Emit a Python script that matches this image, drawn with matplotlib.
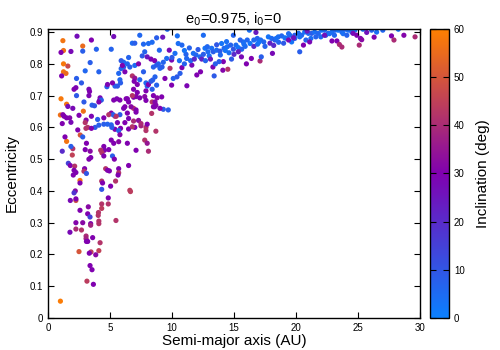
import numpy as np
import matplotlib
matplotlib.use("Agg")
import matplotlib.pyplot as plt
from matplotlib.colors import LinearSegmentedColormap

plt.rcParams["font.family"] = ["Liberation Sans", "DejaVu Sans"]

# (semi-major axis AU, eccentricity, inclination deg)
high_inc = [
    (1.2, 0.873, 57), (1.25, 0.842, 56), (1.25, 0.80, 58), (1.6, 0.793, 47),
    (1.25, 0.775, 57), (1.45, 0.77, 55), (2.8, 0.856, 55), (1.05, 0.69, 58),
    (1.5, 0.673, 57), (2.85, 0.651, 56), (1.0, 0.639, 56), (2.6, 0.576, 50),
    (1.5, 0.556, 57), (2.58, 0.433, 58), (2.5, 0.209, 50), (1.0, 0.053, 59),
    (2.25, 0.37, 48), (1.96, 0.513, 45), (2.0, 0.533, 42),
]

inner_upper = [
    (1.05, 0.836, 30), (1.85, 0.839, 28), (2.34, 0.887, 27), (3.5, 0.875, 30),
    (5.3, 0.886, 27), (2.8, 0.84, 8), (3.9, 0.846, 7), (5.1, 0.846, 7),
    (3.4, 0.804, 8), (3.0, 0.778, 6), (4.1, 0.775, 7), (1.1, 0.762, 30),
    (2.3, 0.754, 8), (2.7, 0.74, 9), (2.25, 0.725, 29), (3.3, 0.72, 28),
    (3.35, 0.713, 30), (3.3, 0.70, 29), (4.75, 0.728, 8), (4.2, 0.693, 28),
    (4.15, 0.684, 27), (3.55, 0.67, 8), (3.75, 0.668, 10), (2.9, 0.68, 9),
    (2.3, 0.70, 9), (1.6, 0.666, 27), (2.0, 0.66, 28), (2.5, 0.638, 30),
    (1.2, 0.64, 31), (1.5, 0.63, 30), (3.07, 0.623, 31), (3.5, 0.635, 29),
    (3.2, 0.60, 42), (4.1, 0.607, 8), (3.8, 0.60, 9),
    (5.1, 0.645, 30), (5.4, 0.635, 42), (5.1, 0.608, 7), (5.4, 0.594, 30),
    (5.6, 0.615, 28), (5.85, 0.597, 30), (6.5, 0.628, 29), (6.5, 0.595, 30),
    (6.9, 0.62, 40), (7.3, 0.622, 33), (7.0, 0.60, 30), (7.5, 0.605, 38),
    (7.9, 0.60, 42), (6.9, 0.66, 42), (7.1, 0.655, 30), (6.1, 0.66, 29),
    (5.8, 0.64, 9), (6.4, 0.69, 30), (6.9, 0.695, 30), (7.1, 0.697, 31),
    (7.4, 0.693, 30), (7.8, 0.697, 32), (7.9, 0.715, 30), (8.4, 0.72, 8),
    (7.9, 0.685, 30), (8.4, 0.68, 42), (8.6, 0.665, 30), (8.8, 0.693, 32),
    (9.3, 0.657, 9), (8.7, 0.588, 42), (7.9, 0.59, 42), (8.0, 0.61, 30),
    (5.7, 0.77, 6), (5.9, 0.785, 7), (6.1, 0.79, 8), (6.2, 0.775, 29),
    (5.8, 0.75, 6), (5.85, 0.74, 8), (5.4, 0.73, 7), (5.6, 0.73, 9),
    (5.2, 0.74, 30), (4.8, 0.735, 29), (6.8, 0.762, 42), (7.0, 0.755, 35),
    (6.95, 0.745, 30), (7.4, 0.75, 7), (7.7, 0.775, 8), (7.2, 0.735, 30),
    (7.9, 0.74, 6), (8.0, 0.73, 8), (8.1, 0.735, 30), (8.3, 0.745, 10),
    (6.9, 0.72, 30), (7.2, 0.71, 30), (2.1, 0.72, 30), (4.3, 0.686, 8),
    (4.1, 0.68, 30), (5.3, 0.686, 30), (5.55, 0.69, 29), (5.8, 0.686, 30),
    (6.3, 0.69, 30), (6.5, 0.68, 30), (6.8, 0.70, 42), (8.5, 0.70, 30),
    (8.7, 0.67, 31), (5.25, 0.64, 8), (4.9, 0.64, 42), (5.5, 0.635, 42),
    (6.4, 0.645, 30), (7.1, 0.648, 30), (6.7, 0.665, 32), (6.2, 0.665, 30),
    (1.3, 0.635, 30), (1.75, 0.63, 31), (3.0, 0.615, 42), (4.0, 0.625, 8),
    (4.5, 0.63, 30), (7.4, 0.89, 6), (6.8, 0.865, 5),
    (7.0, 0.865, 8), (7.7, 0.862, 6), (8.4, 0.868, 5), (7.8, 0.838, 7),
    (7.6, 0.825, 9), (8.0, 0.822, 25), (8.3, 0.815, 30), (8.6, 0.81, 30),
    (6.5, 0.82, 7), (6.1, 0.805, 6), (5.9, 0.81, 9), (6.0, 0.795, 30),
    (6.4, 0.80, 6), (6.6, 0.79, 8), (7.0, 0.795, 5), (7.3, 0.80, 31),
    (8.1, 0.864, 5), (8.9, 0.80, 6), (9.3, 0.805, 7),
]

inner_lower = [
    (1.15, 0.612, 30), (1.85, 0.616, 28), (2.4, 0.592, 30), (2.8, 0.57, 8),
    (3.06, 0.597, 42), (3.5, 0.597, 30), (4.5, 0.61, 8), (4.8, 0.61, 7),
    (5.15, 0.60, 8), (5.7, 0.59, 7), (5.8, 0.577, 31), (6.2, 0.615, 30),
    (6.8, 0.602, 42), (7.5, 0.612, 40), (1.37, 0.57, 30), (1.85, 0.54, 8),
    (1.15, 0.525, 20), (3.1, 0.55, 30), (3.0, 0.53, 30), (3.4, 0.525, 32),
    (3.45, 0.505, 30), (3.3, 0.50, 30), (4.5, 0.54, 30), (4.55, 0.528, 30),
    (4.25, 0.528, 42), (4.35, 0.52, 42), (4.9, 0.53, 30), (5.1, 0.56, 30),
    (5.3, 0.55, 30), (5.7, 0.555, 32), (6.4, 0.55, 30), (7.1, 0.528, 30),
    (7.8, 0.56, 42), (8.0, 0.55, 35), (8.1, 0.525, 40), (5.2, 0.51, 8),
    (5.35, 0.50, 30), (4.5, 0.51, 30), (6.5, 0.48, 30), (5.7, 0.47, 30),
    (4.65, 0.47, 42), (4.8, 0.465, 30), (4.95, 0.463, 30), (5.7, 0.457, 42),
    (5.65, 0.45, 30), (1.64, 0.487, 15), (1.8, 0.48, 30), (2.15, 0.478, 42),
    (2.1, 0.465, 30), (2.25, 0.458, 30), (2.95, 0.47, 30), (2.9, 0.462, 42),
    (3.1, 0.455, 10), (2.04, 0.45, 30), (2.58, 0.425, 30), (4.33, 0.431, 42),
    (4.4, 0.425, 30), (5.45, 0.431, 42), (5.05, 0.415, 30), (4.33, 0.405, 10),
    (2.2, 0.40, 32), (2.1, 0.394, 18), (6.6, 0.402, 44), (6.65, 0.398, 44),
    (1.8, 0.37, 28), (2.25, 0.375, 30), (4.86, 0.378, 30), (4.86, 0.359, 42),
    (4.33, 0.359, 42), (4.33, 0.345, 44), (4.07, 0.332, 42), (4.05, 0.323, 42),
    (2.58, 0.339, 30), (3.25, 0.35, 32), (3.2, 0.328, 30), (3.39, 0.318, 15),
    (4.1, 0.305, 42), (4.1, 0.297, 42), (5.48, 0.307, 42), (3.44, 0.297, 30),
    (3.44, 0.292, 38), (2.25, 0.30, 31), (2.8, 0.30, 32), (2.25, 0.28, 40),
    (2.7, 0.277, 42), (1.77, 0.27, 28), (3.07, 0.258, 40), (3.07, 0.25, 38),
    (3.6, 0.253, 30), (3.1, 0.241, 30), (3.2, 0.241, 30), (4.2, 0.237, 42),
    (3.47, 0.208, 44), (3.33, 0.204, 30), (4.1, 0.212, 45), (3.85, 0.199, 32),
    (3.39, 0.165, 30), (3.55, 0.152, 30), (3.14, 0.116, 44), (3.66, 0.106, 30),
]

band_mid = [
    (9.62, 0.909, 6), (10.43, 0.888, 4), (8.76, 0.882, 8), (9.25, 0.884, 25),
    (12.53, 0.89, 5), (14.95, 0.89, 7), (16.24, 0.906, 4), (16.77, 0.899, 24),
    (10.5, 0.864, 4), (10.8, 0.859, 6), (8.98, 0.843, 6), (9.78, 0.843, 28),
    (9.57, 0.817, 5), (10.24, 0.833, 4), (11.13, 0.83, 7), (11.18, 0.817, 6),
    (11.72, 0.833, 4), (11.94, 0.828, 6), (12.26, 0.822, 5), (12.53, 0.83, 8),
    (12.66, 0.849, 3), (12.85, 0.854, 6), (13.2, 0.849, 4), (13.33, 0.838, 8),
    (13.6, 0.843, 5), (13.87, 0.84, 9), (14.0, 0.864, 3), (14.2, 0.849, 6),
    (14.46, 0.854, 4), (14.73, 0.859, 7), (14.95, 0.846, 10), (15.16, 0.859, 5),
    (15.35, 0.851, 3), (15.62, 0.846, 7), (15.75, 0.869, 4), (16.07, 0.875, 6),
    (16.3, 0.864, 3), (16.6, 0.875, 5), (16.88, 0.88, 7), (17.15, 0.875, 4),
    (17.4, 0.869, 6), (17.77, 0.885, 3), (18.04, 0.88, 5), (18.3, 0.875, 8),
    (18.57, 0.885, 4), (18.84, 0.888, 6), (19.1, 0.882, 3), (14.14, 0.807, 30),
    (14.1, 0.78, 31), (14.5, 0.783, 42), (13.8, 0.807, 8), (13.3, 0.79, 29),
    (13.4, 0.762, 9), (12.3, 0.775, 30), (12.0, 0.765, 30), (11.6, 0.796, 28),
    (11.2, 0.731, 29), (10.8, 0.788, 30), (9.84, 0.786, 42), (9.97, 0.812, 28),
    (9.43, 0.754, 30), (9.97, 0.733, 30), (9.17, 0.696, 30), (8.63, 0.68, 31),
    (9.7, 0.655, 8), (9.03, 0.66, 30), (8.5, 0.665, 30), (8.36, 0.644, 42),
    (15.35, 0.838, 24), (15.6, 0.822, 28), (16.0, 0.80, 30), (16.4, 0.817, 30),
    (17.1, 0.809, 40), (17.2, 0.822, 8), (18.1, 0.833, 28), (8.5, 0.79, 7),
    (8.76, 0.796, 8), (9.03, 0.786, 6), (9.2, 0.79, 8), (8.63, 0.759, 7),
    (8.44, 0.749, 8), (8.76, 0.733, 7), (10.4, 0.759, 9), (10.65, 0.77, 8),
    (10.1, 0.754, 7), (12.4, 0.815, 22), (12.7, 0.81, 7), (11.5, 0.81, 6),
    (11.0, 0.80, 7), (13.0, 0.825, 4), (13.9, 0.828, 6), (14.6, 0.835, 4),
    (15.0, 0.83, 20), (15.9, 0.855, 5), (16.6, 0.855, 20), (17.5, 0.855, 7),
    (17.9, 0.865, 22), (18.6, 0.868, 6), (12.1, 0.845, 9), (11.4, 0.85, 7),
    (13.6, 0.86, 10), (14.4, 0.87, 4), (15.5, 0.875, 7), (16.9, 0.862, 4),
    (10.0, 0.82, 9), (10.6, 0.81, 4), (11.8, 0.815, 20), (13.1, 0.815, 24),
    (13.5, 0.80, 8), (14.8, 0.815, 9), (18.2, 0.858, 20), (19.0, 0.865, 9),
    (11.0, 0.842, 3), (12.9, 0.838, 5), (14.3, 0.842, 3), (15.8, 0.862, 4),
    (17.0, 0.868, 3), (18.4, 0.88, 4),
]

band_outer = [
    (19.25, 0.88, 4), (19.5, 0.89, 6), (19.65, 0.869, 3), (19.9, 0.88, 7),
    (20.2, 0.896, 4), (20.45, 0.89, 6), (20.7, 0.90, 3), (21.0, 0.896, 5),
    (21.26, 0.896, 8), (21.5, 0.90, 4), (21.8, 0.896, 6), (22.07, 0.906, 3),
    (22.3, 0.906, 5), (22.6, 0.896, 7), (22.9, 0.90, 4), (23.15, 0.906, 6),
    (23.4, 0.906, 3), (23.7, 0.90, 5), (23.95, 0.909, 7), (24.2, 0.906, 4),
    (24.5, 0.90, 6), (24.75, 0.906, 3), (25.4, 0.909, 5), (26.1, 0.906, 7),
    (26.5, 0.90, 4), (27.0, 0.906, 6), (28.25, 0.909, 3), (20.3, 0.838, 8),
    (19.4, 0.895, 5), (19.9, 0.89, 8), (20.3, 0.885, 4), (20.8, 0.875, 7),
    (21.2, 0.88, 4), (21.6, 0.885, 7), (22.0, 0.885, 5), (22.4, 0.89, 8),
    (22.7, 0.895, 4), (23.1, 0.89, 6), (23.8, 0.895, 4), (24.1, 0.89, 7),
    (19.4, 0.875, 28), (19.8, 0.882, 26), (20.6, 0.859, 30), (20.9, 0.903, 24),
    (21.1, 0.869, 28), (22.3, 0.89, 26), (22.9, 0.872, 30), (23.3, 0.872, 30),
    (23.5, 0.861, 40), (23.7, 0.853, 40), (24.6, 0.896, 28), (24.9, 0.89, 30),
    (25.2, 0.88, 30), (25.3, 0.876, 32), (25.1, 0.859, 40), (25.7, 0.899, 26),
    (26.3, 0.884, 30), (27.7, 0.888, 30), (27.9, 0.875, 40), (28.7, 0.89, 31),
    (29.6, 0.885, 40),
]

point_groups = [high_inc, inner_upper, inner_lower, band_mid, band_outer]

x_ticks = [0, 5, 10, 15, 20, 25, 30]
y_ticks = [0, 0.1, 0.2, 0.3, 0.4, 0.5, 0.6, 0.7, 0.8, 0.9]
cb_ticks = [0, 10, 20, 30, 40, 50, 60]

cmap = LinearSegmentedColormap.from_list(
    "incl", [(0.0, "#0a80ff"), (0.5, "#8000b0"), (1.0, "#ff8000")])

pts = np.array([p for grp in point_groups for p in grp])

fig = plt.figure(figsize=(5, 3.5), dpi=100)
ax = fig.add_axes([0.096, 0.0914, 0.744, 0.826])
cax = fig.add_axes([0.86, 0.0914, 0.038, 0.826])

sc = ax.scatter(pts[:, 0], pts[:, 1], c=pts[:, 2], cmap=cmap, vmin=0, vmax=60,
                s=14, marker="o", linewidths=0)

ax.set_xlim(0, 30)
ax.set_ylim(0, 0.91)
ax.set_xticks(x_ticks)
ax.set_yticks(y_ticks)
ax.set_xticklabels([str(t) for t in x_ticks])
ax.set_yticklabels(["0"] + [f"{t:.1f}" for t in y_ticks[1:]])
ax.tick_params(direction="in", length=4, width=0.8, top=True, right=True,
               labelsize=7)
for sp in ax.spines.values():
    sp.set_linewidth(1.0)

ax.set_xlabel("Semi-major axis (AU)", fontsize=11, labelpad=1)
ax.set_ylabel("Eccentricity", fontsize=11, labelpad=8)
ax.set_title(r"e$_0$=0.975, i$_0$=0", fontsize=10.5, pad=4)

cb = fig.colorbar(sc, cax=cax, ticks=cb_ticks)
cb.outline.set_linewidth(1.0)
cax.tick_params(direction="in", length=4, width=0.8, labelsize=7,
                left=True, right=True)
cb.set_label("Inclination (deg)", fontsize=11, labelpad=8)

fig.savefig("out.png", dpi=100)
